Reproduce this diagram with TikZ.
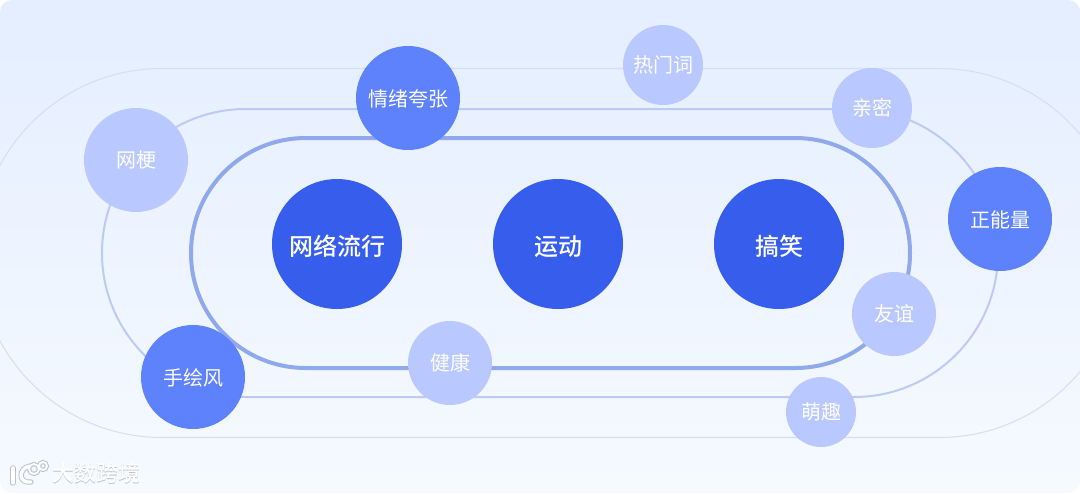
\documentclass[tikz,border=0pt]{standalone}
\usepackage{fontspec}
\usetikzlibrary{calc}
\newfontfamily\cjk{Noto Sans CJK SC}
\newfontfamily\cjkmed{Noto Sans CJK SC Medium}
\definecolor{bgT}{RGB}{228,238,255}
\definecolor{bgB}{RGB}{246,250,255}
\definecolor{ringA}{RGB}{143,169,236}
\definecolor{ringB}{RGB}{188,203,245}
\definecolor{ringC}{RGB}{212,222,248}
\definecolor{figD}{RGB}{54,93,236}
\definecolor{figM}{RGB}{94,130,251}
\definecolor{figL}{RGB}{185,201,255}
\definecolor{markG}{RGB}{190,194,200}
\tikzset{
  topic/.style={circle,fill=figD,text=white,minimum size=97.5pt,inner sep=0pt,text height=18pt,text depth=0.5pt,font=\cjkmed\fontsize{18}{18}\selectfont},
  midtag/.style={circle,fill=figM,text=white,minimum size=78pt,inner sep=0pt,text height=13pt,text depth=0.6pt,font=\cjk\fontsize{15}{15}\selectfont},
  lowtag/.style={circle,fill=figL,text=white,inner sep=0pt,font=\cjk\fontsize{15}{15}\selectfont},
  marktxt/.style={font=\cjkmed\fontsize{16.5}{16.5}\selectfont},
}
\begin{document}
\begin{tikzpicture}[x=0.75pt,y=-0.75pt]
\useasboundingbox (0,0) rectangle (1080,493);
\fill[white] (0,0) rectangle (1080,493);
\shade[top color=bgT,bottom color=bgB,rounded corners=9pt] (0,0) rectangle (1080,493);
\begin{scope}
\clip (0,0) rectangle (1080,493);
\draw[ringC,line width=0.8pt,rounded corners=138pt] (-22,68.5) rectangle (1123,437.5);
\end{scope}
\draw[ringB,line width=1.5pt,rounded corners=108pt] (102,109) rectangle (998,397);
\draw[ringA,line width=3pt,rounded corners=86pt] (191,138) rectangle (910,368);
\node[topic] (wangluo) at (337,244) {网络流行};
\node[topic] (yundong) at (558,244) {运动};
\node[topic] (gaoxiao) at (779,244) {搞笑};
\node[midtag] (qingxu) at (408,98) {情绪夸张};
\node[midtag] (zhengneng) at (1000,219) {正能量};
\node[midtag] (shouhui) at (193,377) {手绘风};
\node[lowtag,minimum size=78pt] (wanggeng) at (136,160) {网梗};
\node[lowtag,minimum size=60pt] (remen) at (663,65) {热门词};
\node[lowtag,minimum size=60pt] (qinmi) at (872,108) {亲密};
\node[lowtag,minimum size=63pt] (youyi) at (894,314) {友谊};
\node[lowtag,minimum size=63pt] (jiankang) at (450,363) {健康};
\node[lowtag,minimum size=52.5pt] (mengqu) at (821,412) {萌趣};
\node[marktxt,text=markG] (markS) at (96.5,474.5) {大数跨境};
\node[marktxt,text=white] (mark) at (96,473.5) {大数跨境};
\draw[markG,line width=4pt,line cap=round] (13,468)--(13,483);
\draw[markG,line width=4pt,line cap=round] (30,466) .. controls (18,468) and (18,484) .. (31,482);
\draw[markG,line width=3pt] (34,469) circle (5) (43,466) circle (4);
\draw[white,line width=2.6pt,line cap=round] (13,468)--(13,483);
\draw[white,line width=2.6pt,line cap=round] (30,466) .. controls (18,468) and (18,484) .. (31,482);
\draw[white,line width=1.4pt] (34,469) circle (5) (43,466) circle (4);
\end{tikzpicture}
\end{document}
